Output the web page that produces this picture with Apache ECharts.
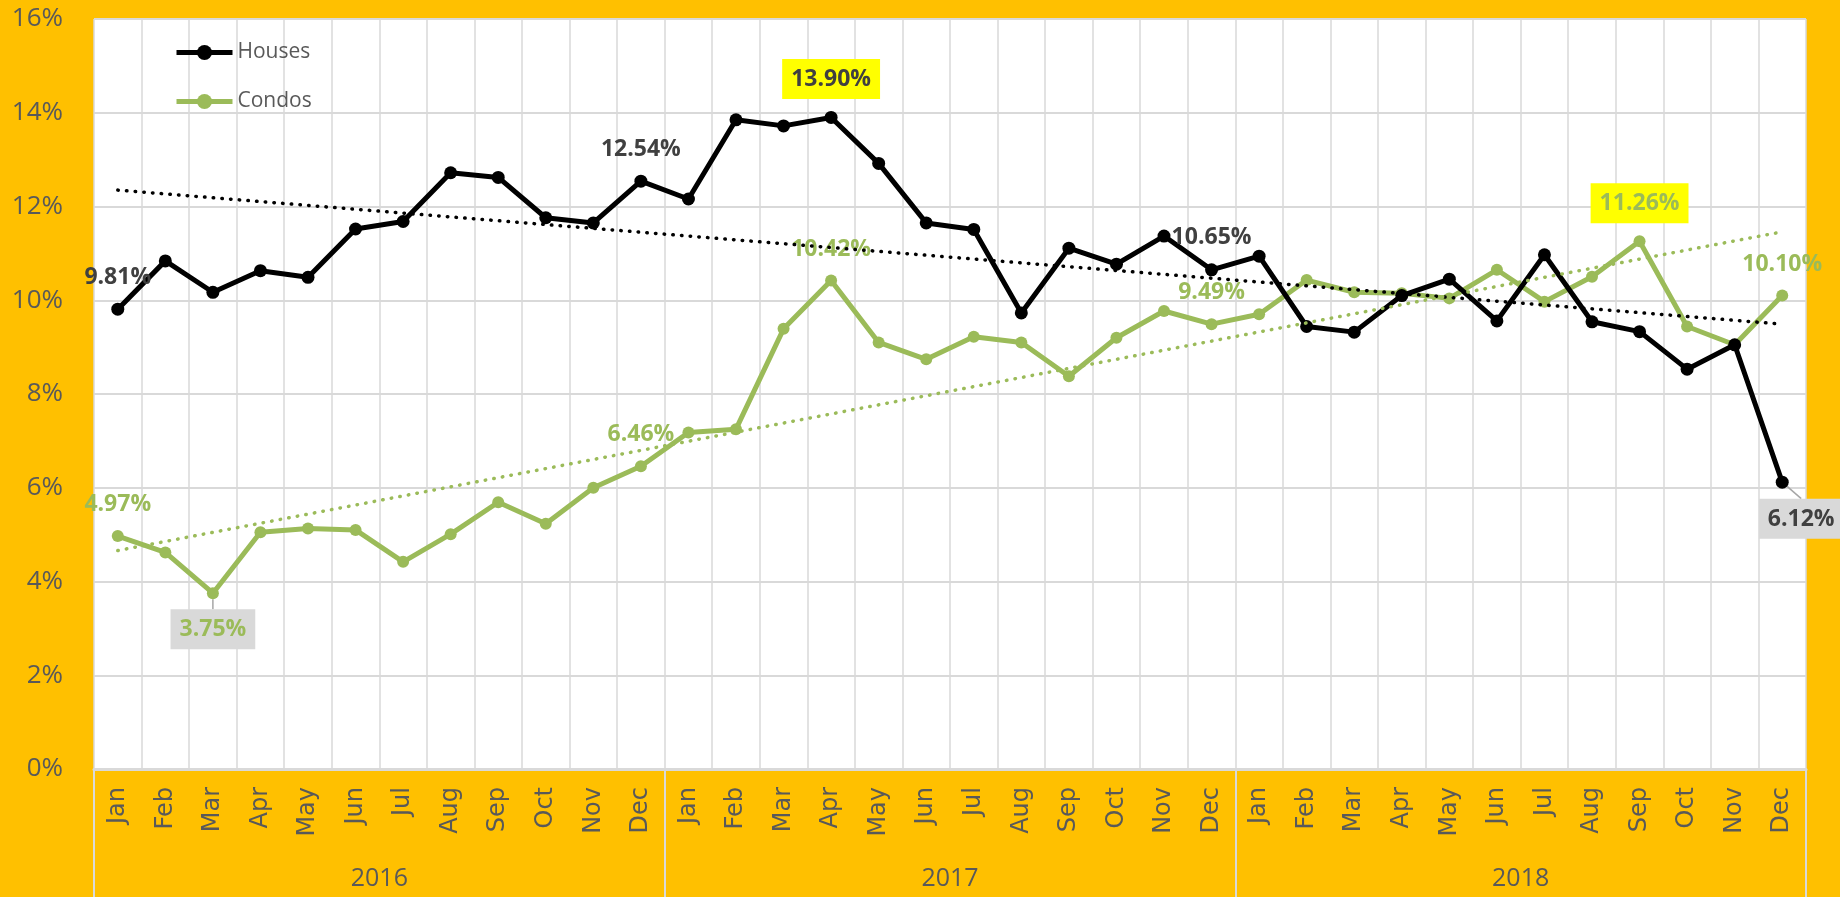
<!DOCTYPE html>
<html>
<head>
<meta charset="utf-8">
<style>
  html, body { margin: 0; padding: 0; background: #FFC000; }
  #chart { width: 1840px; height: 897px; }
</style>
<script src="https://cdn.jsdelivr.net/npm/echarts@6/dist/echarts.min.js"></script>
</head>
<body>
<div id="chart"></div>
<script>
// data (percent)
var months = ['Jan', 'Feb', 'Mar', 'Apr', 'May', 'Jun', 'Jul', 'Aug', 'Sep', 'Oct', 'Nov', 'Dec'];
var years = ['2016', '2017', '2018'];
var houses = [9.81, 10.84, 10.17, 10.63, 10.49, 11.52, 11.68, 12.72, 12.62, 11.76, 11.65, 12.54,
              12.16, 13.85, 13.72, 13.90, 12.92, 11.65, 11.51, 9.73, 11.11, 10.77, 11.37, 10.65,
              10.94, 9.44, 9.32, 10.10, 10.45, 9.56, 10.97, 9.54, 9.33, 8.53, 9.05, 6.12];
var condos = [4.97, 4.62, 3.75, 5.05, 5.13, 5.10, 4.42, 5.01, 5.69, 5.23, 6.00, 6.46,
              7.18, 7.25, 9.39, 10.42, 9.10, 8.74, 9.22, 9.10, 8.38, 9.20, 9.77, 9.49,
              9.70, 10.43, 10.17, 10.15, 10.04, 10.65, 9.97, 10.50, 11.26, 9.44, 9.05, 10.10];
// trendline ends (first month, last month)
var housesTrend = [12.35, 9.49];
var condosTrend = [4.66, 11.46];

var GREEN = '#9BBB59';
var DARK = '#404040';

var categories = [];
years.forEach(function (y) {
    months.forEach(function (m) { categories.push(m + ' ' + y); });
});

var pct = function (p) { return p.value.toFixed(2) + '%'; };

// which points carry a data label
var housesPlain = [0, 11, 23];
var housesYellow = [15];
var housesGrey = [35];
var condosPlain = [0, 11, 15, 23, 35];
var condosYellow = [32];
var condosGrey = [2];

function buildData(values, color, plain, yellow, grey) {
    return values.map(function (v, i) {
        var base = {
            show: true, formatter: pct, color: color,
            fontFamily: 'Open Sans', fontWeight: 'bold', fontSize: 23
        };
        if (plain.indexOf(i) >= 0) {
            base.position = 'top';
            base.distance = 14;
            return { value: v, label: base };
        }
        if (yellow.indexOf(i) >= 0) {
            base.position = 'top';
            base.distance = 12;
            base.backgroundColor = '#FFFF00';
            base.padding = [9, 9, 8, 9];
            return { value: v, label: base };
        }
        if (grey.indexOf(i) >= 0) {
            base.position = 'bottom';
            base.distance = 2;
            base.backgroundColor = '#D9D9D9';
            base.padding = [9, 9, 8, 9];
            return {
                value: v, label: base,
                labelLine: { show: true, lineStyle: { color: '#A6A6A6', width: 1.5 } }
            };
        }
        return v;
    });
}

var chart = echarts.init(document.getElementById('chart'));

chart.setOption({
    animation: false,
    backgroundColor: '#FFC000',
    textStyle: { fontFamily: 'Open Sans' },
    grid: {
        left: 94, right: 34, top: 19, bottom: 128,
        show: true, backgroundColor: '#FFFFFF', borderWidth: 0,
        outerBoundsMode: 'none'
    },
    legend: {
        data: ['Houses', 'Condos'],
        orient: 'vertical',
        left: 169, top: 37,
        itemWidth: 56, itemHeight: 19, itemGap: 28,
        lineStyle: { width: 5 },
        textStyle: { color: '#595959', fontSize: 21, fontFamily: 'Open Sans' }
    },
    xAxis: [{
        type: 'category',
        data: categories,
        boundaryGap: true,
        axisLine: { lineStyle: { color: '#D9D9D9', width: 3 } },
        axisTick: { show: false },
        splitLine: { show: true, interval: 0, lineStyle: { color: '#D9D9D9', width: 1.5 } },
        axisLabel: {
            interval: 0, rotate: 90, margin: 18,
            color: '#595959', fontFamily: 'DejaVu Sans', fontSize: 24,
            formatter: function (v) { return v.split(' ')[0]; }
        }
    }, {
        type: 'category',
        data: years,
        position: 'bottom',
        offset: 128,
        boundaryGap: true,
        axisLine: { show: false },
        axisTick: { show: true, inside: true, length: 128, lineStyle: { color: '#D9D9D9', width: 2 } },
        splitLine: { show: false },
        axisLabel: {
            inside: true, margin: 6,
            color: '#595959', fontFamily: 'Open Sans', fontSize: 25
        }
    }],
    yAxis: {
        type: 'value',
        min: 0, max: 16, interval: 2,
        axisLine: { show: false },
        axisTick: { show: false },
        splitLine: { lineStyle: { color: '#D9D9D9', width: 2 } },
        axisLabel: {
            margin: 31, color: '#595959', fontFamily: 'Open Sans', fontSize: 26,
            formatter: '{value}%'
        }
    },
    series: [{
        name: 'Houses',
        type: 'line',
        data: buildData(houses, DARK, housesPlain, housesYellow, housesGrey),
        symbol: 'circle', symbolSize: 13,
        itemStyle: { color: '#000000' },
        lineStyle: { color: '#000000', width: 5 },
        labelLayout: function (p) {
            if (p.dataIndex === 35) return { dx: 19, dy: 8 };
            return {};
        },
        z: 3
    }, {
        name: 'Condos',
        type: 'line',
        data: buildData(condos, GREEN, condosPlain, condosYellow, condosGrey),
        symbol: 'circle', symbolSize: 12,
        itemStyle: { color: GREEN },
        lineStyle: { color: GREEN, width: 5 },
        labelLayout: function (p) {
            if (p.dataIndex === 2) return { dy: 8 };
            return {};
        },
        z: 2
    }, {
        name: 'Houses trend',
        type: 'line',
        data: [[0, housesTrend[0]], [categories.length - 1, housesTrend[1]]],
        symbol: 'none',
        silent: true,
        lineStyle: { color: '#000000', width: 3.5, type: [0.5, 8.2], cap: 'round' },
        z: 4
    }, {
        name: 'Condos trend',
        type: 'line',
        data: [[0, condosTrend[0]], [categories.length - 1, condosTrend[1]]],
        symbol: 'none',
        silent: true,
        lineStyle: { color: GREEN, width: 3.5, type: [0.5, 8.2], cap: 'round' },
        z: 4
    }]
});
</script>
</body>
</html>
